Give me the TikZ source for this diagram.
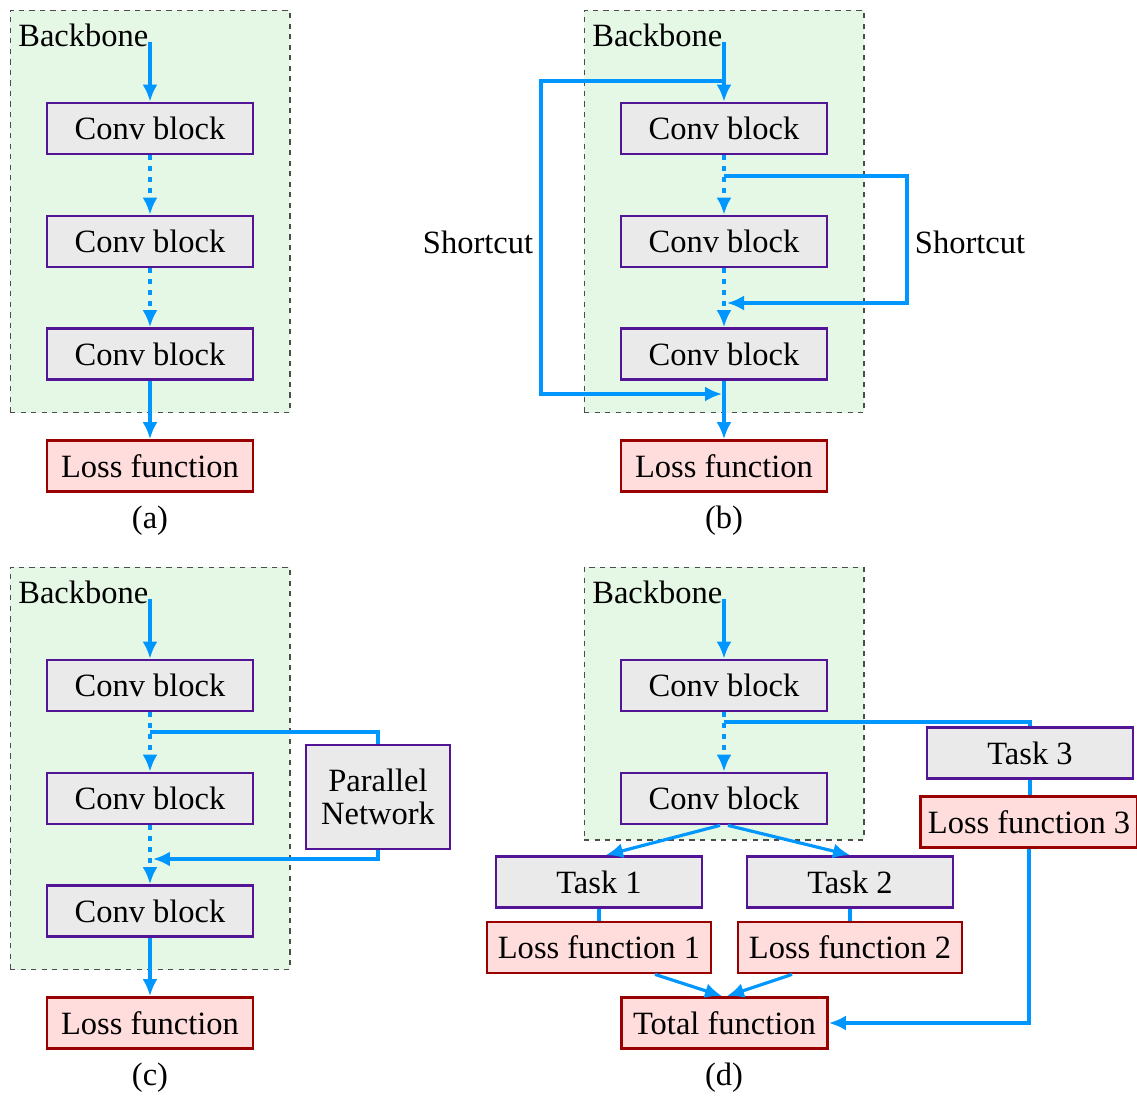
\documentclass[tikz,border=0pt]{standalone}
\usepackage{fontspec}
\setmainfont{Liberation Serif}
\usetikzlibrary{arrows.meta}

\definecolor{flowblue}{RGB}{0,150,255}
\definecolor{convfill}{RGB}{234,234,234}
\definecolor{convline}{RGB}{84,20,150}
\definecolor{lossfill}{RGB}{255,221,221}
\definecolor{lossline}{RGB}{153,0,0}
\definecolor{bbfill}{RGB}{229,248,229}

\begin{document}
\begin{tikzpicture}[x=0.02cm, y=-0.02cm,
    every node/.style={font=\fontsize{18.5}{21}\selectfont, inner sep=0pt},
    conv/.style={draw=convline, fill=convfill, line width=1.6pt, minimum width=4.12cm, minimum height=1.02cm},
    loss/.style={draw=lossline, fill=lossfill, line width=1.6pt, minimum width=4.12cm, minimum height=1.02cm},
    bb/.style={draw=black!70, fill=bbfill, dashed, line width=0.6pt, minimum width=5.6cm},
    flow/.style={draw=flowblue, line width=1.8pt, -{Latex[length=0.34cm,width=0.3cm]}},
    dots/.style={flow, dash pattern=on 0.1cm off 0.12cm},
    link/.style={draw=flowblue, line width=1.8pt}]
        \useasboundingbox (0,0) rectangle (1137,1099);

        % backbone regions
        \node[bb, minimum height=8.06cm] (BA) at (150,211.5) {};
        \node[bb, minimum height=8.06cm] (BB) at (724,211.5) {};
        \node[bb, minimum height=8.06cm] (BC) at (150,768.5) {};
        \node[bb, minimum height=5.46cm] (BD) at (724,703.5) {};
        \node[anchor=west] (TA) at (18,35) {Backbone};
        \node[anchor=west] (TB) at (592,35) {Backbone};
        \node[anchor=west] (TC) at (18,592) {Backbone};
        \node[anchor=west] (TD) at (592,592) {Backbone};

        % (a)
        \node[conv] (A1) at (150,128.5) {Conv block};
        \node[conv] (A2) at (150,241.5) {Conv block};
        \node[conv] (A3) at (150,354) {Conv block};
        \node[loss] (AL) at (150,466) {Loss function};
        \node (CA) at (150,521) {(a)};
        \coordinate (a0) at (150,42);
        \draw[flow] (a0) -- (A1.north);
        \draw[dots] (A1.south) -- (A2.north);
        \draw[dots] (A2.south) -- (A3.north);
        \draw[flow] (A3.south) -- (AL.north);

        % (b)
        \node[conv] (B1) at (724,128.5) {Conv block};
        \node[conv] (B2) at (724,241.5) {Conv block};
        \node[conv] (B3) at (724,354) {Conv block};
        \node[loss] (BL) at (724,466) {Loss function};
        \node (CB) at (724,521) {(b)};
        \node (SL) at (478,242) {Shortcut};
        \node (SR) at (970,242) {Shortcut};
        \coordinate (b0) at (724,42);
        \coordinate (b1) at (724,81);
        \coordinate (b2) at (724,176);
        \coordinate (b3) at (727,303);
        \coordinate (b4) at (722,394);
        \draw[flow] (b0) -- (B1.north);
        \draw[dots] (B1.south) -- (B2.north);
        \draw[dots] (B2.south) -- (B3.north);
        \draw[flow] (B3.south) -- (BL.north);
        \draw[flow] (b1) -- (541,81) -- (541,394) -- (b4);
        \draw[flow] (b2) -- (907,176) -- (907,303) -- (b3);

        % (c)
        \node[conv] (C1) at (150,685.5) {Conv block};
        \node[conv] (C2) at (150,798.5) {Conv block};
        \node[conv] (C3) at (150,911) {Conv block};
        \node[loss] (CL) at (150,1023) {Loss function};
        \node (CC) at (150,1078) {(c)};
        \node[conv, minimum width=2.88cm, minimum height=2.08cm, align=center] (PN) at (378,797) {Parallel\\[-2pt]Network};
        \coordinate (c0) at (150,599);
        \coordinate (c1) at (150,732);
        \coordinate (c2) at (153,859);
        \draw[flow] (c0) -- (C1.north);
        \draw[dots] (C1.south) -- (C2.north);
        \draw[dots] (C2.south) -- (C3.north);
        \draw[flow] (C3.south) -- (CL.north);
        \draw[link] (c1) -| (PN.north);
        \draw[flow] (PN.south) |- (c2);

        % (d)
        \node[conv] (D1) at (724,685.5) {Conv block};
        \node[conv] (D2) at (724,798.5) {Conv block};
        \node[conv] (T1) at (599,882) {Task 1};
        \node[conv] (T2) at (850,882) {Task 2};
        \node[conv] (T3) at (1030,753) {Task 3};
        \node[loss, minimum width=4.48cm] (L1) at (599,947.5) {Loss function 1};
        \node[loss, minimum width=4.48cm] (L2) at (850,947.5) {Loss function 2};
        \node[loss, minimum width=4.34cm] (L3) at (1029,822) {Loss function 3};
        \node[loss] (DT) at (724.5,1023) {Total function};
        \node (CD) at (724,1078) {(d)};
        \coordinate (d0) at (724,599);
        \coordinate (d1) at (724,722);
        \draw[flow] (d0) -- (D1.north);
        \draw[dots] (D1.south) -- (D2.north);
        \draw[link] (d1) -| (T3.north);
        \draw[flow] ([xshift=-0.08cm]D2.south) -- ([xshift=0.14cm]T1.north);
        \draw[flow] ([xshift=0.08cm]D2.south) -- (T2.north);
        \draw[link] (T1.south) -- (L1.north);
        \draw[link] (T2.south) -- (L2.north);
        \draw[link] (T3.south) -- (T3.south |- L3.north);
        \draw[flow] ([xshift=1.12cm]L1.south) -- ([xshift=-0.05cm]DT.north);
        \draw[flow] ([xshift=-1.16cm]L2.south) -- ([xshift=0.05cm]DT.north);
        \draw[flow] (L3.south) |- (DT.east);
      \end{tikzpicture}
\end{document}
